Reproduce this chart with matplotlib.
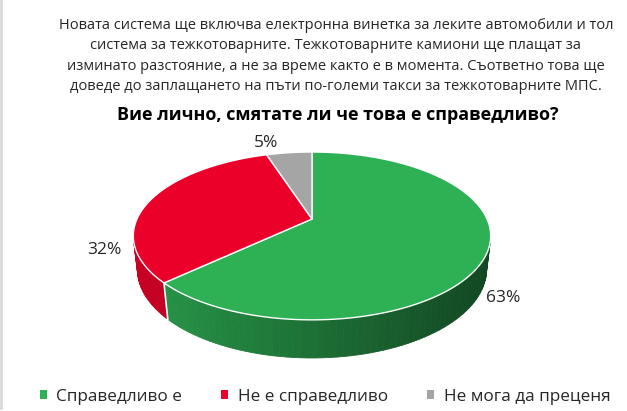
import numpy as np
import matplotlib.pyplot as plt
from matplotlib.patches import Polygon, Patch

subtitle = ("Новата система ще включва електронна винетка за леките автомобили и тол\n"
            "система за тежкотоварните. Тежкотоварните камиони ще плащат за\n"
            "изминато разстояние, а не за време както е в момента. Съответно това ще\n"
            "доведе до заплащането на пъти по-големи такси за тежкотоварните МПС.")
title = "Вие лично, смятате ли че това е справедливо?"

categories = ["Справедливо е", "Не е справедливо", "Не мога да преценя"]
values = [63, 32, 5]
colors = ["#2EB155", "#EB0029", "#A5A5A5"]

plt.rcParams["font.family"] = ["Open Sans", "Noto Sans", "DejaVu Sans"]

fig = plt.figure(figsize=(6.27, 4.11), dpi=100)
ax = fig.add_axes([0, 0, 1, 1])
ax.set_xlim(0, 627)
ax.set_ylim(411, 0)
ax.axis("off")

# simple perspective projection of a tilted disc
cx, cy = 312, 219
sin_e, cos_e = 0.46, 0.888
D, f, thick = 4.4, 770, 0.216


def project(theta, z):
    x = np.sin(theta)
    y = np.cos(theta)
    depth = D + y * cos_e - z * sin_e
    X = f * x / depth
    Y = f * (y * sin_e + z * cos_e) / depth
    return cx + X, cy - Y


def shade(color, px):
    rgb = np.array(plt.matplotlib.colors.to_rgb(color))
    t = np.clip((px - 134) / 357, 0, 1)
    return tuple(rgb * (0.86 - 0.46 * t))


fracs = np.array(values) / sum(values)
bounds = np.concatenate([[0], np.cumsum(fracs)]) * 2 * np.pi
limit = -1 / (D * cos_e)

# sides
for i, col in enumerate(colors):
    th = np.linspace(bounds[i], bounds[i + 1], 120)
    for a, b in zip(th[:-1], th[1:]):
        if np.cos((a + b) / 2) >= limit:
            continue
        p1 = project(a, 0)
        p2 = project(b, 0)
        p3 = project(b, -thick)
        p4 = project(a, -thick)
        c = shade(col, (p1[0] + p2[0]) / 2)
        ax.add_patch(Polygon([p1, p2, p3, p4], closed=True, facecolor=c,
                             edgecolor=c, linewidth=0.6))
    # white seam at wedge boundary on the side
    edge = bounds[i]
    if np.cos(edge) < limit:
        xa, ya = project(edge, 0)
        xb, yb = project(edge, -thick)
        ax.plot([xa, xb], [ya, yb], color="white", lw=1.2)

# top face
for i, col in enumerate(colors):
    th = np.linspace(bounds[i], bounds[i + 1], 200)
    pts = [(cx, cy)] + [project(a, 0) for a in th]
    ax.add_patch(Polygon(pts, closed=True, facecolor=col, edgecolor="white",
                         linewidth=1.0, joinstyle="round"))

# data labels
label_pos = [(503, 298), (104, 250), (266, 143)]
for v, (lx, ly) in zip(values, label_pos):
    ax.text(lx, ly, f"{v}%", ha="center", va="center", fontsize=12.5,
            color="#262626")

# texts
ax.text(336, 56, subtitle, ha="center", va="center", fontsize=10.5,
        color="#262626", linespacing=1.5)
ax.text(338, 115, title, ha="center", va="center", fontsize=13,
        fontweight="bold", color="#000000")

# left border line
ax.plot([1, 1], [0, 408], color="#D9D9D9", lw=2)

handles = [Patch(facecolor=c, edgecolor="none") for c in colors]
fig.legend(handles, categories, loc="center", bbox_to_anchor=(325 / 627, 1 - 397 / 411),
           ncol=3, frameon=False, fontsize=12.3, handlelength=0.42, handleheight=0.42,
           handletextpad=0.55, columnspacing=2.3, labelcolor="#262626",
           borderpad=0.2)

fig.savefig("out.png", dpi=100)
